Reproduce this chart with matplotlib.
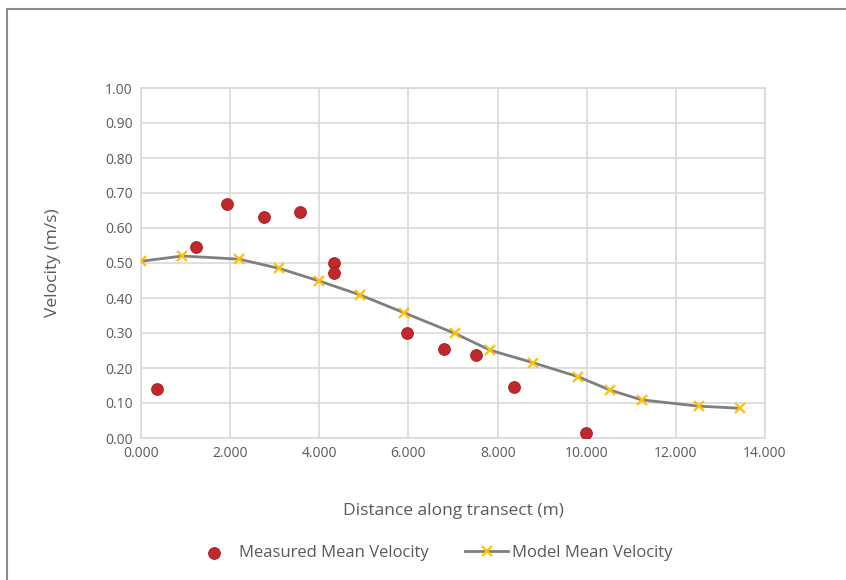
import matplotlib.pyplot as plt
from matplotlib.patches import Rectangle
import numpy as np

plt.rcParams['font.family'] = ['Open Sans', 'DejaVu Sans']

# measured mean velocity (scatter)
meas_x = [0.36, 1.23, 1.92, 2.77, 3.57, 4.32, 4.32, 5.96, 6.80, 7.51, 8.36, 9.99]
meas_v = [0.14, 0.545, 0.67, 0.632, 0.645, 0.499, 0.472, 0.299, 0.255, 0.237, 0.145, 0.013]

# model mean velocity (line)
model_x = [0.0, 0.93, 2.20, 3.09, 3.99, 4.91, 5.90, 7.04, 7.83, 8.80, 9.81, 10.52, 11.23, 12.51, 13.43]
model_v = [0.505, 0.52, 0.511, 0.485, 0.449, 0.409, 0.358, 0.299, 0.251, 0.215, 0.175, 0.137, 0.109, 0.091, 0.085]

fig = plt.figure(figsize=(8.46, 5.8), dpi=100)
ax = fig.add_axes([141/846, 1-438/580, 624/846, 350/580])

txt = '#595959'
ax.plot(model_x, model_v, color='#7f7f7f', lw=2.0, marker='x', ms=7,
        mec='#ffc000', mew=1.6, label='Model Mean Velocity', zorder=3)
ax.scatter(meas_x, meas_v, s=70, color='#c0282d', edgecolors='#b02025',
           linewidths=0.8, label='Measured Mean Velocity', zorder=4)

ax.set_xlim(0, 14)
ax.set_ylim(0, 1.0)
ax.set_xticks(np.arange(0, 14.1, 2))
ax.set_xticklabels(['%.3f' % v for v in np.arange(0, 14.1, 2)])
ax.set_yticks(np.arange(0, 1.01, 0.1))
ax.set_yticklabels(['%.2f' % v for v in np.arange(0, 1.01, 0.1)])
ax.tick_params(length=0, labelsize=10, labelcolor=txt, pad=6)
ax.grid(color='#d9d9d9', lw=1.2)
ax.set_axisbelow(True)
for s in ax.spines.values():
    s.set_color('#d9d9d9')
    s.set_linewidth(1.2)

ax.set_xlabel('Distance along transect (m)', fontsize=12.5, color=txt, labelpad=30)
ax.set_ylabel('Velocity (m/s)', fontsize=12.5, color=txt, labelpad=32)

h, l = ax.get_legend_handles_labels()
fig.legend([h[1], h[0]], [l[1], l[0]], loc='center', bbox_to_anchor=(432/846, 1-553/580),
           ncol=2, frameon=False, fontsize=12, labelcolor=txt, columnspacing=2.2,
           handlelength=2.6, handletextpad=0.2)

# outer chart border (cropped on right and bottom)
fig.patches.append(Rectangle((7/846, -0.1), 1.2, 1.1 - 9/580, transform=fig.transFigure,
                             fill=False, ec='#8c8c8c', lw=1.5))

fig.savefig('out.png', dpi=100)
